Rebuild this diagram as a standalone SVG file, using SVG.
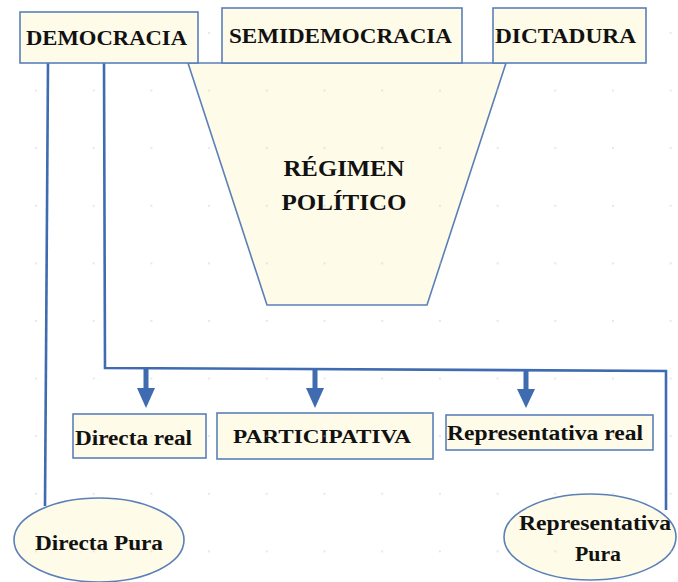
<svg xmlns="http://www.w3.org/2000/svg" width="678" height="582" viewBox="0 0 678 582">
<style>
.box{fill:#fefbe8;stroke:#5b80b8;stroke-width:1.6}
.lbl{font-family:"Liberation Serif","DejaVu Serif",serif;font-weight:bold;fill:#111}
.wire{fill:none;stroke:#3f6bb0;stroke-width:2.6}
.shaft{stroke:#3f6bb0;stroke-width:5}
.head{fill:#3f6bb0}
</style>
<defs>
<pattern id="grid" patternUnits="userSpaceOnUse" x="35" y="32" width="57.7" height="57.6">
<circle cx="1" cy="1" r="0.75" fill="#c4c4c4"/>
</pattern>
</defs>
<rect width="678" height="582" fill="#ffffff"/>

<g id="regimen">
<polygon class="box" points="188,63 506,63 427,305 267,305"/>
<text class="lbl" x="344" y="176" font-size="24" text-anchor="middle" textLength="121" lengthAdjust="spacingAndGlyphs">RÉGIMEN</text>
<text class="lbl" x="344" y="210" font-size="24" text-anchor="middle" textLength="125" lengthAdjust="spacingAndGlyphs">POLÍTICO</text>
</g>

<g id="connectors">
<path class="wire" d="M48,63 L45,506"/>
<path class="wire" d="M104,63 L105,368 L666,371 L666,510"/>
<line class="shaft" x1="146" y1="368" x2="146" y2="390"/>
<polygon class="head" points="137,388 155,388 146,408"/>
<line class="shaft" x1="315" y1="369" x2="315" y2="390"/>
<polygon class="head" points="306,388 324,388 315,408"/>
<line class="shaft" x1="526" y1="370" x2="526" y2="391"/>
<polygon class="head" points="517,389 535,389 526,408"/>
</g>

<g id="democracia">
<rect class="box" x="20" y="12" width="178" height="51"/>
<text class="lbl" x="26" y="45" font-size="21" textLength="161" lengthAdjust="spacingAndGlyphs">DEMOCRACIA</text>
</g>
<g id="semidemocracia">
<rect class="box" x="222" y="8" width="240" height="55"/>
<text class="lbl" x="229" y="43" font-size="21" textLength="223" lengthAdjust="spacingAndGlyphs">SEMIDEMOCRACIA</text>
</g>
<g id="dictadura">
<rect class="box" x="493" y="8" width="153" height="55"/>
<text class="lbl" x="495" y="43" font-size="21" textLength="141" lengthAdjust="spacingAndGlyphs">DICTADURA</text>
</g>

<g id="directa-real">
<rect class="box" x="73" y="414" width="133" height="44"/>
<text class="lbl" x="75" y="445" font-size="20" textLength="117" lengthAdjust="spacingAndGlyphs">Directa real</text>
</g>
<g id="participativa">
<rect class="box" x="217" y="413" width="216" height="46"/>
<text class="lbl" x="233" y="443" font-size="19" textLength="178" lengthAdjust="spacingAndGlyphs">PARTICIPATIVA</text>
</g>
<g id="representativa-real">
<rect class="box" x="446" y="415" width="207" height="35"/>
<text class="lbl" x="447" y="440" font-size="20" textLength="196" lengthAdjust="spacingAndGlyphs">Representativa real</text>
</g>

<g id="directa-pura">
<ellipse class="box" cx="99" cy="540" rx="85" ry="42"/>
<text class="lbl" x="99" y="550" font-size="20" text-anchor="middle" textLength="128" lengthAdjust="spacingAndGlyphs">Directa Pura</text>
</g>
<g id="representativa-pura">
<ellipse class="box" cx="590" cy="537" rx="86" ry="43"/>
<text class="lbl" x="595" y="530" font-size="20" text-anchor="middle" textLength="152" lengthAdjust="spacingAndGlyphs">Representativa</text>
<text class="lbl" x="598" y="561" font-size="20" text-anchor="middle" textLength="46" lengthAdjust="spacingAndGlyphs">Pura</text>
</g>

<rect width="678" height="582" fill="url(#grid)"/>
</svg>
